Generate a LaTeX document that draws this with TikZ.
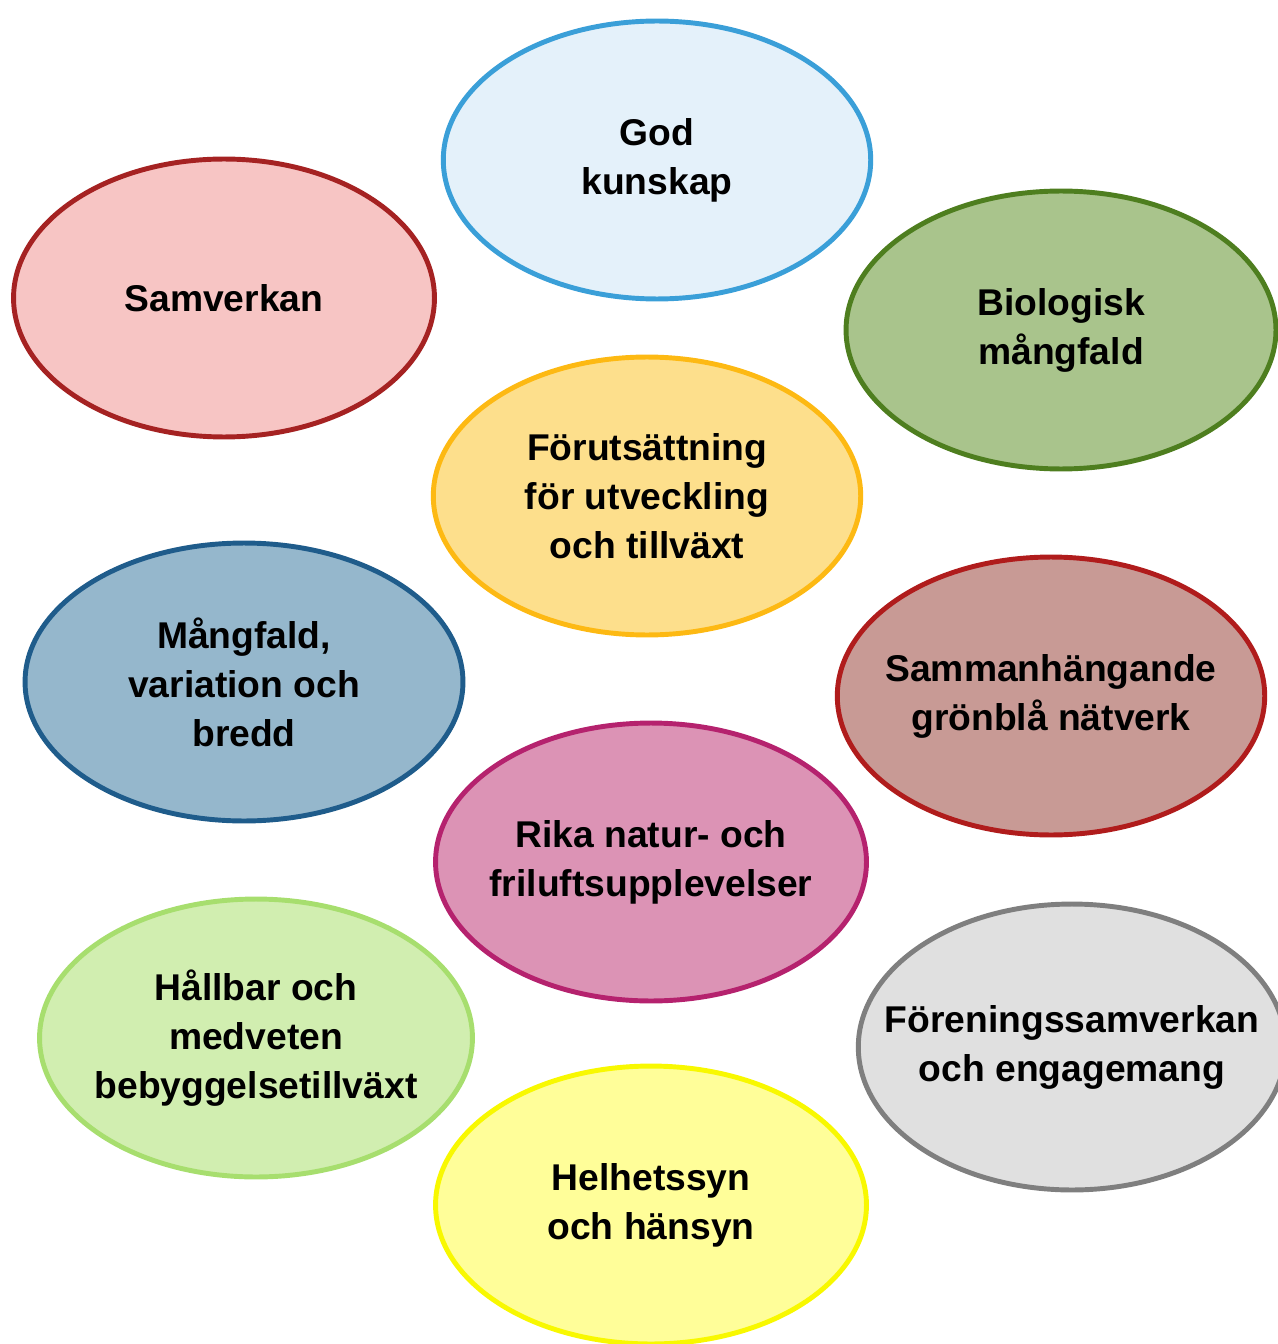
\documentclass[tikz,border=0pt]{standalone}
\usepackage{fontspec}
\setmainfont{Liberation Sans}
\usepackage{tikz}
\usetikzlibrary{shapes.geometric,positioning}

\definecolor{godfill}{HTML}{E4F1FA}   \definecolor{goddraw}{HTML}{3A9FD8}
\definecolor{samfill}{HTML}{F7C5C4}   \definecolor{samdraw}{HTML}{A52222}
\definecolor{biofill}{HTML}{A9C48C}   \definecolor{biodraw}{HTML}{4E7E1F}
\definecolor{forfill}{HTML}{FDDF8C}   \definecolor{fordraw}{HTML}{FDB913}
\definecolor{manfill}{HTML}{95B7CC}   \definecolor{mandraw}{HTML}{1F5C8B}
\definecolor{natfill}{HTML}{C89A95}   \definecolor{natdraw}{HTML}{B01C1C}
\definecolor{rikfill}{HTML}{DC93B5}   \definecolor{rikdraw}{HTML}{B5226E}
\definecolor{hallfill}{HTML}{D1EEB0}  \definecolor{halldraw}{HTML}{A7DE6E}
\definecolor{fenfill}{HTML}{E0E0E0}   \definecolor{fendraw}{HTML}{7F7F7F}
\definecolor{helfill}{HTML}{FFFE99}   \definecolor{heldraw}{HTML}{F8F800}

\begin{document}
\begin{tikzpicture}[x=0.02cm, y=-0.02cm,
        bubble/.style 2 args={ellipse, fill=#1, draw=#2, line width=2.8pt,
            inner xsep=-2cm, inner ysep=-0.5cm, minimum width=8.55cm, minimum height=5.56cm,
            align=center, font=\fontsize{21.2}{27.9}\selectfont\bfseries}]
        \useasboundingbox (0,0) rectangle (1277,1344);
        \node[bubble={godfill}{goddraw}] (god) at (657,160) {God\\kunskap};
        \node[bubble={samfill}{samdraw}, minimum width=8.42cm] (sam) at (224,298) {Samverkan};
        \node[bubble={biofill}{biodraw}, minimum width=8.6cm] (bio) at (1061,330) {Biologisk\\mångfald};
        \node[bubble={forfill}{fordraw}] (for) at (647,496) {Förutsättning\\för utveckling\\och tillväxt};
        \node[bubble={manfill}{mandraw}, minimum width=8.76cm] (man) at (244,682) {Mångfald,\\variation och\\bredd};
        \node[bubble={natfill}{natdraw}] (nat) at (1051,696) {Sammanhängande\\grönblå nätverk};
        \node[bubble={rikfill}{rikdraw}, minimum width=8.62cm] (rik) at (651,862) {Rika natur- och\\friluftsupplevelser};
        \node[bubble={hallfill}{halldraw}, minimum width=8.66cm] (hall) at (256,1038) {Hållbar och\\medveten\\bebyggelsetillväxt};
        \node[bubble={fenfill}{fendraw}, minimum height=5.72cm] (fen) at (1072,1047) {Föreningssamverkan\\och engagemang};
        \node[bubble={helfill}{heldraw}, minimum width=8.62cm] (hel) at (651,1205) {Helhetssyn\\och hänsyn};
    \end{tikzpicture}
\end{document}
